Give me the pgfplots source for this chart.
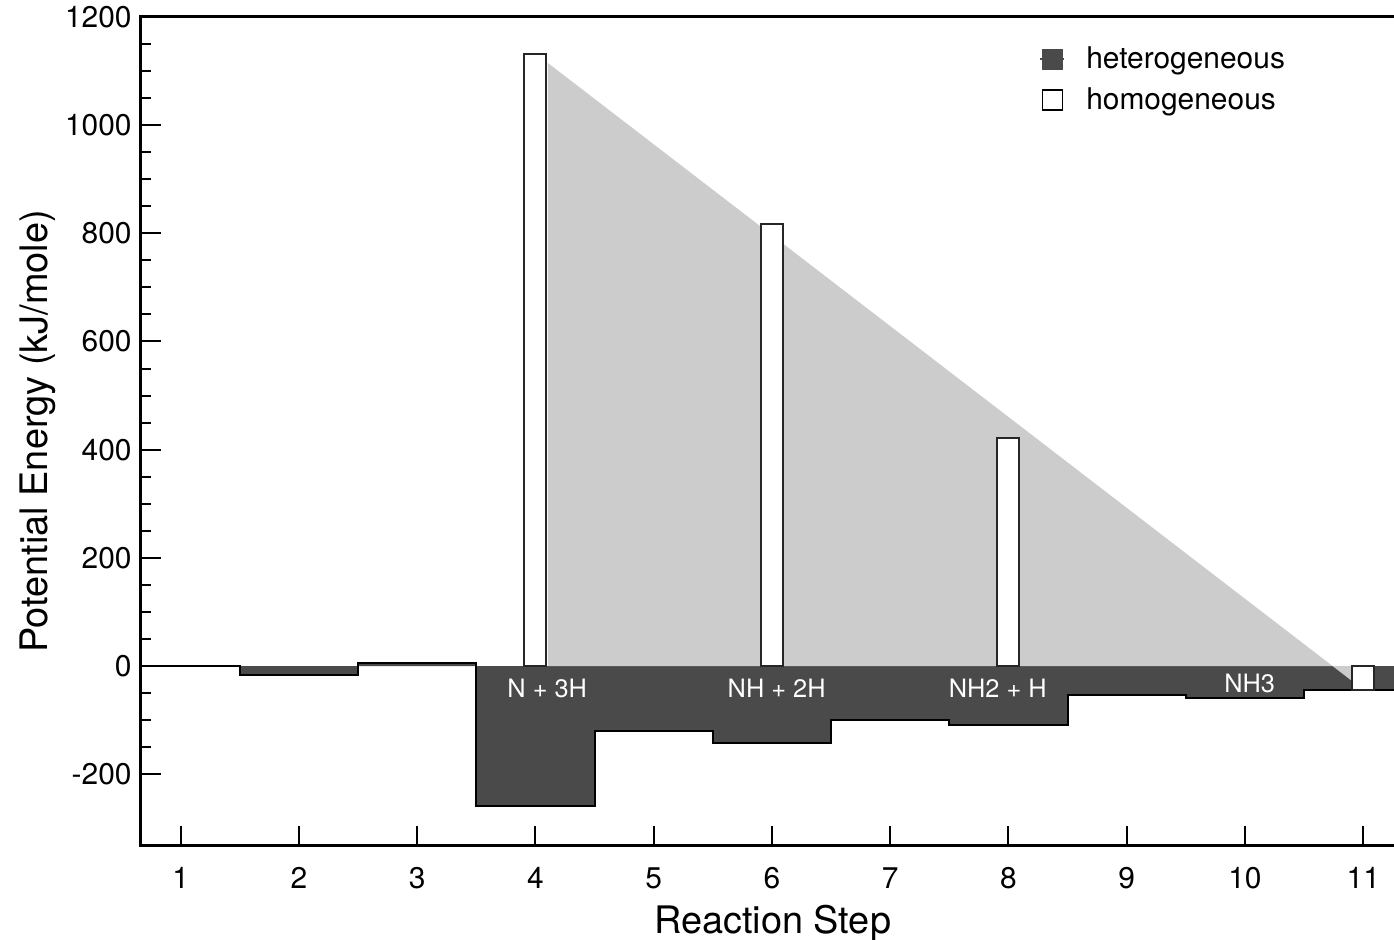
\documentclass[border=0pt]{standalone}
\usepackage{pgfplots}
\pgfplotsset{compat=1.18}
\usepackage{fontspec}
\setmainfont{TeX Gyre Heros}
\definecolor{hetero}{gray}{0.29}
\definecolor{shade}{gray}{0.80}
\begin{document}
\begin{tikzpicture}
\begin{axis}[
  name=ax,
  scale only axis,
  width=633.8pt, height=415.5pt,
  xmin=0.662, xmax=11.35,
  ymin=-332, ymax=1200,
  axis line style={line width=1.5pt},
  xtick={1,2,...,11},
  xtick pos=bottom, ytick pos=left,
  tick align=inside,
  ytick={-200,0,200,...,1200},
  minor y tick num=3,
  major tick length=10pt, minor tick length=5pt,
  major tick style={line width=1pt, black},
  minor tick style={line width=1pt, black},
  /pgf/number format/assume math mode=true,
  /pgf/number format/1000 sep={},
  ticklabel style={font=\fontsize{15}{18}\selectfont},
  yticklabel style={xshift=-1pt},
  xticklabel style={yshift=-7.5pt},
  xlabel={Reaction Step},
  ylabel={Potential Energy (kJ/mole)},
  label style={font=\fontsize{19}{22}\selectfont},
  xlabel style={yshift=-1pt},
  ylabel style={yshift=-2pt},
  clip=true,
  legend style={at={(rel axis cs:0.706,0.974)}, anchor=north west, draw=none, fill=none,
    font=\fontsize{15}{18}\selectfont, row sep=4pt,
    /tikz/every odd column/.append style={column sep=8.5pt}},
  legend cell align=left,
]
% heterogeneous fill
\addplot[const plot, fill=hetero, draw=none, forget plot] coordinates {
  (0.662,0) (1.5,-16) (2.5,5) (3.5,-258) (4.5,-120) (5.5,-142) (6.5,-100) (7.5,-109) (8.5,-53) (9.5,-59) (10.5,-44) (11.35,-44)
} \closedcycle;
% heterogeneous outline
\addplot[const plot, draw=black, line width=1pt, forget plot] coordinates {
  (0.662,0) (1.5,-16) (2.5,5) (3.5,-258) (4.5,-120) (5.5,-142) (6.5,-100) (7.5,-109) (8.5,-53) (9.5,-59) (10.5,-44) (11.35,-44)
};
% grey wedge
\addplot[fill=shade, draw=none, forget plot] coordinates {
  (4.105,0) (4.105,1115) (10.907,-28) (10.907,0)
} \closedcycle;
% homogeneous bars
\addplot[ybar, bar width=0.186, fill=white, draw=black!85, line width=1pt, forget plot] coordinates {
  (4,1132) (6,817) (8,422) (11,-44)
};
\node[white, font=\fontsize{12.7}{15}\selectfont] at (axis cs:4.1,-42) {N + 3H};
\node[white, font=\fontsize{12.7}{15}\selectfont] at (axis cs:6.04,-42) {NH + 2H};
\node[white, font=\fontsize{12.7}{15}\selectfont] at (axis cs:7.91,-42) {NH2 + H};
\node[white, font=\fontsize{12.7}{15}\selectfont] at (axis cs:10.04,-33) {NH3};
\coordinate (tr) at (axis cs:11.26,1200);
\addlegendimage{legend image code/.code={
  \draw[hetero, line width=1pt] (1pt,0pt) -- (13pt,0pt);
  \fill[hetero] (2pt,-5pt) rectangle (12pt,5pt);}}
\addlegendentry{heterogeneous}
\addlegendimage{legend image code/.code={
  \draw[black, line width=0.8pt, fill=white] (2pt,-5pt) rectangle (12pt,5pt);}}
\addlegendentry{homogeneous}
\end{axis}
\pgfresetboundingbox
\path ([xshift=-70.5pt,yshift=-47pt]ax.south west) rectangle ([yshift=8.5pt]tr);
\end{tikzpicture}
\end{document}
